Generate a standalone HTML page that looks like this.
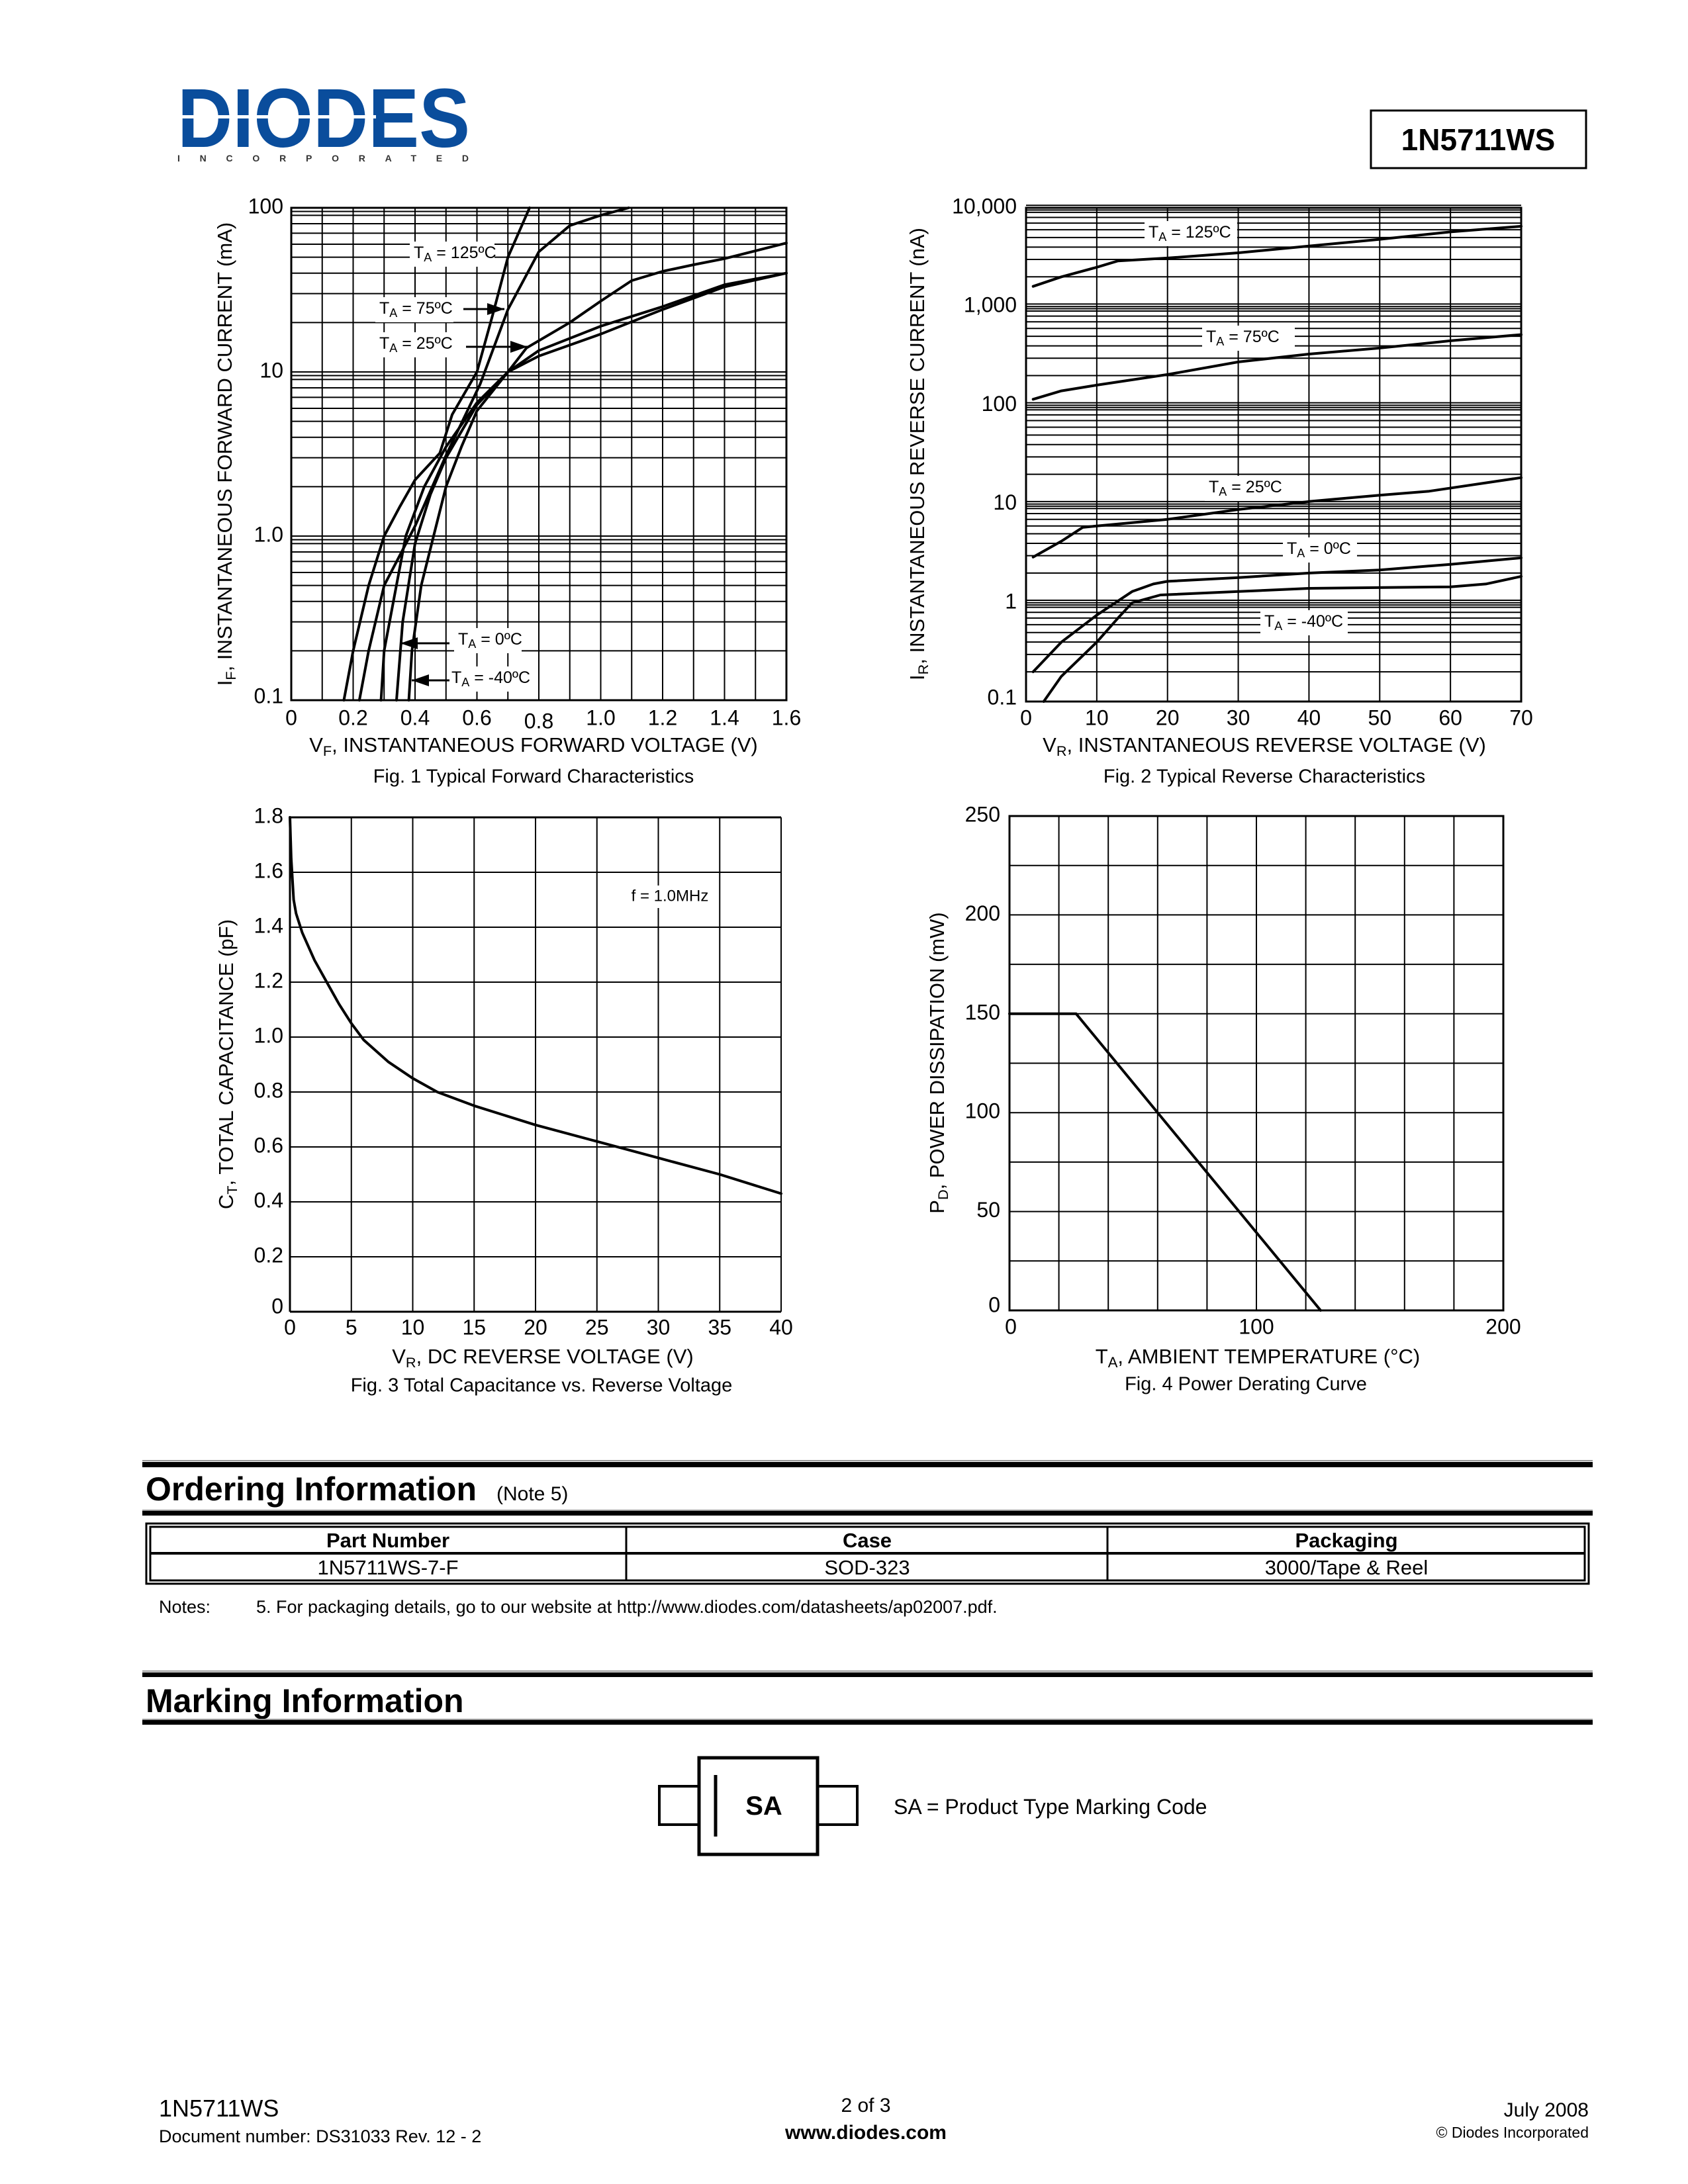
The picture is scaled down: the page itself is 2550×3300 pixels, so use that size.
<!DOCTYPE html>
<html><head><meta charset="utf-8"><title>1N5711WS datasheet page 2</title>
<style>
html,body{margin:0;padding:0;background:#fff}
svg{display:block;font-family:"Liberation Sans",Arial,sans-serif}
</style></head>
<body>
<svg id="page" xmlns="http://www.w3.org/2000/svg" width="2550" height="3300" viewBox="0 0 2550 3300">
<rect width="2550" height="3300" fill="#fff"/>
<!-- Logo -->
<g>
  <text x="268" y="222" font-size="126" font-weight="bold" fill="#0a4d9c" textLength="442" lengthAdjust="spacingAndGlyphs" font-family="Liberation Sans, sans-serif">DIODES</text>
  <rect x="268" y="174" width="300" height="5" fill="#fff"/>
  <text x="268" y="244" font-size="14" font-weight="bold" fill="#333" textLength="440" lengthAdjust="spacing">INCORPORATED</text>
</g>
<g>
  <rect x="2071" y="167" width="325" height="87" fill="none" stroke="#000" stroke-width="3"/>
  <text x="2233" y="227" font-size="46" font-weight="bold" text-anchor="middle">1N5711WS</text>
</g>
<g id="charts"></g>

<!-- Ordering -->
<g>
  <rect x="215" y="2206" width="2191" height="2" fill="#999"/>
  <rect x="215" y="2209" width="2191" height="8" fill="#000"/>
  <text x="220" y="2267" font-size="50" font-weight="bold">Ordering Information</text>
  <text x="750" y="2267" font-size="30">(Note 5)</text>
  <rect x="215" y="2281" width="2191" height="2" fill="#999"/>
  <rect x="215" y="2283" width="2191" height="7" fill="#000"/>
  <g>
    <rect x="221" y="2302" width="2179" height="91" fill="none" stroke="#000" stroke-width="3"/>
    <rect x="227" y="2307" width="2167" height="81" fill="none" stroke="#000" stroke-width="3"/>
    <line x1="227" y1="2347" x2="2394" y2="2347" stroke="#000" stroke-width="4"/>
    <line x1="946" y1="2307" x2="946" y2="2388" stroke="#000" stroke-width="3"/>
    <line x1="1673" y1="2307" x2="1673" y2="2388" stroke="#000" stroke-width="3"/>
    <text x="586" y="2338" font-size="31" font-weight="bold" text-anchor="middle">Part Number</text>
    <text x="1310" y="2338" font-size="31" font-weight="bold" text-anchor="middle">Case</text>
    <text x="2034" y="2338" font-size="31" font-weight="bold" text-anchor="middle">Packaging</text>
    <text x="586" y="2379" font-size="31" text-anchor="middle">1N5711WS-7-F</text>
    <text x="1310" y="2379" font-size="31" text-anchor="middle">SOD-323</text>
    <text x="2034" y="2379" font-size="31" text-anchor="middle">3000/Tape &amp; Reel</text>
  </g>
  <text x="240" y="2437" font-size="27">Notes:</text>
  <text x="387" y="2437" font-size="27">5.  For packaging details, go to our website at http://www.diodes.com/datasheets/ap02007.pdf.</text>
</g>

<!-- Marking -->
<g>
  <rect x="215" y="2524" width="2191" height="2" fill="#999"/>
  <rect x="215" y="2527" width="2191" height="7" fill="#000"/>
  <text x="220" y="2587" font-size="50" font-weight="bold">Marking Information</text>
  <rect x="215" y="2597" width="2191" height="2" fill="#999"/>
  <rect x="215" y="2599" width="2191" height="7" fill="#000"/>
  <g>
    <rect x="996" y="2699" width="60" height="58" fill="none" stroke="#000" stroke-width="4"/>
    <rect x="1235" y="2699" width="60" height="58" fill="none" stroke="#000" stroke-width="4"/>
    <rect x="1056" y="2656" width="179" height="146" fill="#fff" stroke="#000" stroke-width="5"/>
    <line x1="1081" y1="2682" x2="1081" y2="2775" stroke="#000" stroke-width="5"/>
    <text x="1154" y="2742" font-size="40" font-weight="bold" text-anchor="middle">SA</text>
  </g>
  <text x="1350" y="2741" font-size="32">SA = Product Type Marking Code</text>
</g>

<!-- Footer -->
<g>
  <text x="240" y="3198" font-size="36">1N5711WS</text>
  <text x="240" y="3237" font-size="27">Document number: DS31033 Rev. 12 - 2</text>
  <text x="1308" y="3191" font-size="30" text-anchor="middle">2 of 3</text>
  <text x="1308" y="3232" font-size="30" font-weight="bold" text-anchor="middle">www.diodes.com</text>
  <text x="2400" y="3198" font-size="30" text-anchor="end">July 2008</text>
  <text x="2400" y="3230" font-size="23" text-anchor="end">© Diodes Incorporated</text>
</g>
</svg>
<script>
// ---------- Fig 1 data ----------
var fig1XTicks = ["0","0.2","0.4","0.6","0.8","1.0","1.2","1.4","1.6"];
var fig1YTicks = ["0.1","1.0","10","100"];
var fig1V125 = [0.17,0.20,0.25,0.30,0.35,0.40,0.48,0.52,0.60,0.65,0.70,0.77];
var fig1I125 = [0.1,0.2,0.5,1.0,1.5,2.2,3.2,5.5,10,22,50,100];
var fig1V75 = [0.22,0.25,0.30,0.40,0.50,0.61,0.70,0.80,0.90,1.0,1.09];
var fig1I75 = [0.1,0.2,0.5,1.15,3.1,8.4,24,54,78,90,100];
var fig1V25 = [0.29,0.30,0.33,0.37,0.43,0.50,0.60,0.70,0.76,0.90,1.0,1.1,1.2,1.3,1.4,1.6];
var fig1I25 = [0.1,0.2,0.4,1.0,2.0,3.5,6.5,10,14,20,27,36,41,45,49,61];
var fig1V0 = [0.34,0.36,0.40,0.45,0.50,0.60,0.70,0.80,1.0,1.2,1.4,1.6];
var fig1I0 = [0.1,0.3,0.9,1.8,3.0,6.3,10,13.5,19,25,34,40];
var fig1Vm40 = [0.38,0.39,0.42,0.46,0.50,0.55,0.60,0.70,0.80,1.0,1.2,1.4,1.6];
var fig1Im40 = [0.1,0.2,0.5,1.0,2.0,3.5,5.8,10,12.5,17,24,33,40];
// ---------- Fig 2 data ----------
var fig2XTicks = ["0","10","20","30","40","50","60","70"];
var fig2YTicks = ["0.1","1","10","100","1,000","10,000"];
var fig2V125 = [1,5,10,13,20,30,40,50,60,70];
var fig2I125 = [1600,2000,2500,2900,3100,3500,4100,4800,5700,6500];
var fig2V75 = [1,5,10,20,30,40,50,60,70];
var fig2I75 = [115,140,160,205,275,330,380,450,520];
var fig2V25 = [1,5,8,10,20,30,40,50,57,70];
var fig2I25 = [2.9,4.2,5.8,6.0,7.0,8.8,10.6,12.3,13.5,18.5];
var fig2V0 = [1,5,10,15,18,20,30,40,50,60,70];
var fig2I0 = [0.2,0.4,0.75,1.3,1.55,1.65,1.8,2.0,2.15,2.45,2.85];
var fig2Vm40 = [2.5,5,10,13,15,19,30,40,60,65,70];
var fig2Im40 = [0.1,0.18,0.4,0.7,1.0,1.2,1.3,1.4,1.45,1.55,1.85];
// ---------- Fig 3 data ----------
var fig3XTicks = ["0","5","10","15","20","25","30","35","40"];
var fig3YTicks = ["0","0.2","0.4","0.6","0.8","1.0","1.2","1.4","1.6","1.8"];
var fig3V = [0,0.1,0.3,0.5,1,2,3,4,5,6,8,10,12,15,20,25,30,35,40];
var fig3C = [1.8,1.65,1.5,1.45,1.38,1.28,1.2,1.12,1.05,0.99,0.91,0.85,0.80,0.75,0.68,0.62,0.56,0.50,0.43];
// ---------- Fig 4 data ----------
var fig4XTicks = ["0","100","200"];
var fig4YTicks = ["0","50","100","150","200","250"];
var fig4T = [0,27,126];
var fig4P = [150,150,0];

var NS = "http://www.w3.org/2000/svg";
var root = document.getElementById("charts");
function mk(tag, attrs, parent){
  var e = document.createElementNS(NS, tag);
  for (var k in attrs) e.setAttribute(k, attrs[k]);
  (parent||root).appendChild(e);
  return e;
}
function line(g,x1,y1,x2,y2,w){
  var l = mk("line",{x1:x1,y1:y1,x2:x2,y2:y2,stroke:"#000","stroke-width":w},g);
  return l;
}
function txt(g,x,y,s,size,anchor){
  var t = mk("text",{x:x,y:y,"font-size":size,"text-anchor":anchor||"middle","dominant-baseline":"middle"},g);
  t.textContent = s;
  return t;
}
function curve(g, xs, ys, sx, sy, name){
  var pts = [];
  for (var i=0;i<xs.length;i++) pts.push(sx(xs[i]).toFixed(1)+","+sy(ys[i]).toFixed(1));
  var p = mk("polyline",{points:pts.join(" "),fill:"none",stroke:"#000","stroke-width":4,"stroke-linejoin":"round","stroke-linecap":"round"},g);
  
  
  return p;
}
function label(g,x,y,main,rest,w){
  var r = mk("rect",{x:x-6,y:y-18,width:w,height:38,fill:"#fff"},g);
  var t = mk("text",{x:x,y:y,"font-size":25,"dominant-baseline":"middle"},g);
  
  
  var a = mk("tspan",{},t); a.textContent="T";
  var b = mk("tspan",{"font-size":18,dy:7},t); b.textContent="A";
  var c = mk("tspan",{dy:-7},t); c.textContent=" = "+rest;
}
function arrow(g,x1,y,x2){
  line(g,x1,y,x2,y,3);
  var d = x2>x1?1:-1;
  mk("polygon",{points:x2+","+y+" "+(x2-d*26)+","+(y-9)+" "+(x2-d*26)+","+(y+9),fill:"#000"},g);
}
function ytitle(g,x,y,main,sub,rest,size){
  var t = mk("text",{x:x,y:y,"font-size":size,"text-anchor":"middle",transform:"rotate(-90 "+x+" "+y+")","dominant-baseline":"middle"},g);
  
  
  var a=mk("tspan",{},t); a.textContent=main;
  var b=mk("tspan",{"font-size":size*0.7,dy:8},t); b.textContent=sub;
  var c=mk("tspan",{dy:-8},t); c.textContent=rest;
}
function xtitle(g,x,y,main,sub,rest,size){
  var t = mk("text",{x:x,y:y,"font-size":size,"text-anchor":"middle","dominant-baseline":"middle"},g);
  
  
  var a=mk("tspan",{},t); a.textContent=main;
  var b=mk("tspan",{"font-size":size*0.7,dy:8},t); b.textContent=sub;
  var c=mk("tspan",{dy:-8},t); c.textContent=rest;
}

// ===== Fig 1 =====
(function(){
  var g = mk("g",{});
  
  
  var L=440,R=1188,T=314,B=1058;
  var sx=function(v){return L+(v/1.6)*(R-L);};
  var sy=function(i){return B-(Math.log10(i)+1)/3*(B-T);};
  for (var k=0;k<=16;k++) line(g,sx(k*0.1),T,sx(k*0.1),B,2);
  var dec=[0.1,1,10];
  for (var d=0;d<dec.length;d++) for (var m=1;m<=9;m++) line(g,L,sy(dec[d]*m),R,sy(dec[d]*m),2);
  line(g,L,sy(dec[2]*9.5),R,sy(dec[2]*9.5),2);
  line(g,L,sy(dec[1]*9.5),R,sy(dec[1]*9.5),2);
  line(g,L,sy(dec[0]*9.5),R,sy(dec[0]*9.5),2);
  mk("rect",{x:L,y:T,width:R-L,height:B-T,fill:"none",stroke:"#000","stroke-width":3},g);
  for (var i=0;i<fig1XTicks.length;i++){
    var t=txt(g,sx(i*0.2),1087+(fig1XTicks[i]==="0.8"?5:0),fig1XTicks[i],32);
    
    
  }
  for (var j=0;j<fig1YTicks.length;j++){
    var t2=txt(g,428,sy(Math.pow(10,j-1))-(j===0?4:0),fig1YTicks[j],32,"end");
    
    
  }
  curve(g,fig1V125,fig1I125,sx,sy,"curve-125c");
  curve(g,fig1V75,fig1I75,sx,sy,"curve-75c");
  curve(g,fig1V25,fig1I25,sx,sy,"curve-25c");
  curve(g,fig1V0,fig1I0,sx,sy,"curve-0c");
  curve(g,fig1Vm40,fig1Im40,sx,sy,"curve-minus40c");
  label(g,625,383,"T","125ºC",128);
  label(g,573,467,"T","75ºC",118);
  arrow(g,700,467,762);
  label(g,573,520,"T","25ºC",118);
  arrow(g,704,524,797);
  label(g,692,967,"T","0ºC",102);
  arrow(g,679,972,605);
  label(g,682,1025,"T","-40ºC",122);
  arrow(g,679,1028,622);
  ytitle(g,342,686,"I","F",", INSTANTANEOUS FORWARD CURRENT (mA)",31);
  xtitle(g,806,1128,"V","F",", INSTANTANEOUS FORWARD VOLTAGE (V)",31);
  var c=txt(g,806,1175,"Fig. 1  Typical Forward Characteristics",29);
  
  
})();

// ===== Fig 2 =====
(function(){
  var g = mk("g",{});
  
  
  var L=1550,R=2298,T=314,B=1060;
  var sx=function(v){return L+(v/70)*(R-L);};
  var sy=function(i){return B-(Math.log10(i)+1)/5*(B-T);};
  for (var k=0;k<=7;k++) line(g,sx(k*10),T,sx(k*10),B,2);
  var dec=[0.1,1,10,100,1000];
  for (var d=0;d<dec.length;d++){ for (var m=1;m<=9;m++) line(g,L,sy(dec[d]*m),R,sy(dec[d]*m),2);
    line(g,L,sy(dec[d]*9.5),R,sy(dec[d]*9.5),2); line(g,L,sy(dec[d]*10.6),R,sy(dec[d]*10.6),2);}
  mk("rect",{x:L,y:T,width:R-L,height:B-T,fill:"none",stroke:"#000","stroke-width":3},g);
  for (var i=0;i<fig2XTicks.length;i++){
    var t=txt(g,sx(i*10),1087,fig2XTicks[i],32);
    
    
  }
  for (var j=0;j<fig2YTicks.length;j++){
    var t2=txt(g,1536,sy(Math.pow(10,j-1))-(j===0?4:0),fig2YTicks[j],32,"end");
    
    
  }
  curve(g,fig2V125,fig2I125,sx,sy,"curve-125c");
  curve(g,fig2V75,fig2I75,sx,sy,"curve-75c");
  curve(g,fig2V25,fig2I25,sx,sy,"curve-25c");
  curve(g,fig2V0,fig2I0,sx,sy,"curve-0c");
  curve(g,fig2Vm40,fig2Im40,sx,sy,"curve-minus40c");
  label(g,1735,352,"T","125ºC",140);
  label(g,1822,510,"T","75ºC",140);
  label(g,1826,737,"T","25ºC",112);
  label(g,1944,830,"T","0ºC",112);
  label(g,1910,940,"T","-40ºC",132);
  ytitle(g,1388,686,"I","R",", INSTANTANEOUS REVERSE CURRENT (nA)",31);
  xtitle(g,1910,1128,"V","R",", INSTANTANEOUS REVERSE VOLTAGE (V)",31);
  var c=txt(g,1910,1175,"Fig. 2  Typical Reverse Characteristics",29);
  
  
})();

// ===== Fig 3 =====
(function(){
  var g = mk("g",{});
  
  
  var L=438,R=1180,T=1235,B=1982;
  var sx=function(v){return L+(v/40)*(R-L);};
  var sy=function(c){return B-(c/1.8)*(B-T);};
  for (var k=0;k<=8;k++) line(g,sx(k*5),T,sx(k*5),B,2);
  for (var m=0;m<=9;m++) line(g,L,sy(m*0.2),R,sy(m*0.2),2);
  line(g,L,T,L,B,3); line(g,L,B,R,B,3); line(g,L,T,R,T,3);
  for (var i=0;i<fig3XTicks.length;i++){
    var t=txt(g,sx(i*5),2008,fig3XTicks[i],32);
    
    
  }
  for (var j=0;j<fig3YTicks.length;j++){
    var t2=txt(g,428,sy(j*0.2)-(j===0?6:0),fig3YTicks[j],32,"end");
    
    
  }
  var fr=mk("rect",{x:950,y:1338,width:126,height:34,fill:"#fff"},g);
  var f=txt(g,1012,1355,"f = 1.0MHz",24);
  
  
  curve(g,fig3V,fig3C,sx,sy,"capacitance-curve");
  ytitle(g,344,1608,"C","T",", TOTAL CAPACITANCE (pF)",31);
  xtitle(g,820,2052,"V","R",", DC REVERSE VOLTAGE (V)",31);
  var c=txt(g,818,2095,"Fig. 3  Total Capacitance vs. Reverse Voltage",29);
  
  
})();

// ===== Fig 4 =====
(function(){
  var g = mk("g",{});
  
  
  var L=1525,R=2271,T=1233,B=1980;
  var sx=function(v){return L+(v/200)*(R-L);};
  var sy=function(p){return B-(p/250)*(B-T);};
  for (var k=0;k<=10;k++) line(g,sx(k*20),T,sx(k*20),B,2);
  for (var m=0;m<=10;m++) line(g,L,sy(m*25),R,sy(m*25),2);
  mk("rect",{x:L,y:T,width:R-L,height:B-T,fill:"none",stroke:"#000","stroke-width":3},g);
  for (var i=0;i<fig4XTicks.length;i++){
    var t=txt(g,sx(i*100)+(i===0?2:0),2007,fig4XTicks[i],32);
    
    
  }
  for (var j=0;j<fig4YTicks.length;j++){
    var t2=txt(g,1511,sy(j*50)-(j===0?6:0),fig4YTicks[j],32,"end");
    
    
  }
  curve(g,fig4T,fig4P,sx,sy,"derating-curve");
  ytitle(g,1418,1606,"P","D",", POWER DISSIPATION (mW)",31);
  var t=mk("text",{x:1900,y:2052,"font-size":31,"text-anchor":"middle","dominant-baseline":"middle"},g);
  
  
  var a=mk("tspan",{},t); a.textContent="T";
  var b=mk("tspan",{"font-size":22,dy:8},t); b.textContent="A";
  var c2=mk("tspan",{dy:-8},t); c2.textContent=", AMBIENT TEMPERATURE (°C)";
  var c=txt(g,1882,2093,"Fig. 4  Power Derating Curve",29);
  
  
})();
</script>
</body></html>
